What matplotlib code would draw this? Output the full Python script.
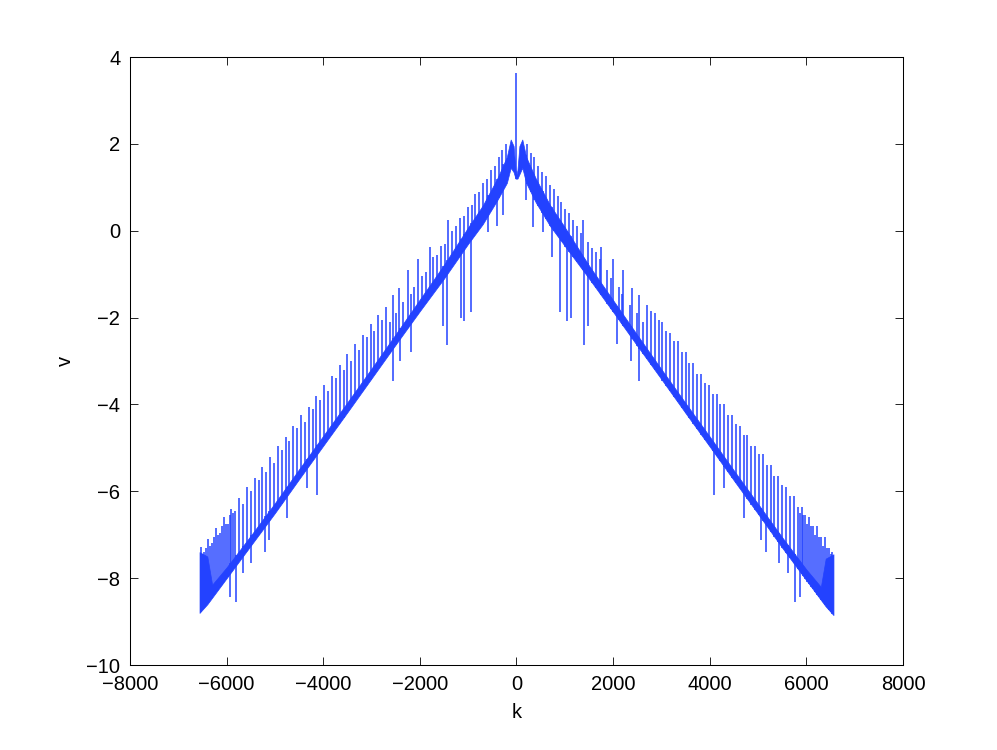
import numpy as np
import matplotlib
matplotlib.use("Agg")
import matplotlib.pyplot as plt

# thick central band of the signal (lower / upper edge)
band_k_left = [-6561, -6400, -6300, -6000, -5500, -5000, -4500, -4000, -3500, -3000,
               -2500, -2000, -1500, -1000, -700, -400, -200, -120, -60, -20, 0]
band_lo_left = [-8.8, -8.6, -8.45, -8.0, -7.25, -6.5, -5.72, -4.95, -4.18, -3.4,
                -2.62, -1.85, -1.1, -0.3, 0.15, 0.7, 1.1, 1.45, 1.35, 1.2, 1.2]
band_hi_left = [-7.4, -7.5, -8.15, -7.75, -7.02, -6.27, -5.49, -4.72, -3.95, -3.17,
                -2.38, -1.58, -0.78, 0.08, 0.58, 1.2, 1.7, 2.1, 1.95, 1.4, 1.3]

band_k_right = [0, 20, 60, 120, 200, 400, 700, 1000, 1500, 2000, 2500, 3000, 3500, 4000,
                4500, 5000, 5500, 6000, 6300, 6400, 6561]
band_lo_right = [1.2, 1.2, 1.3, 1.45, 1.1, 0.65, 0.1, -0.35, -1.1, -1.87, -2.65, -3.42, -4.2,
                 -4.97, -5.75, -6.52, -7.3, -8.05, -8.5, -8.65, -8.85]
band_hi_right = [1.3, 1.4, 1.95, 2.1, 1.7, 1.2, 0.58, 0.08, -0.8, -1.6, -2.4, -3.19,
                 -3.97, -4.74, -5.52, -6.29, -7.06, -7.8, -8.2, -7.55, -7.45]

# upward spikes (position, top)
up_k_left = [-6540, -6460, -6380, -6300, -6220, -6140, -6060, -5980, -5900, -5820, -5740,
             -5660, -5580, -5500, -5420, -5340, -5260, -5180, -5100, -5020, -4940, -4860,
             -4780, -4700, -4620, -4540, -4460, -4380, -4300, -4220, -4140, -4060, -3980,
             -3900, -3820, -3740, -3660, -3580, -3500, -3420, -3340, -3260, -3180, -3100,
             -3020, -2940, -2860, -2780, -2700,
             -2620, -2564, -2500, -2424, -2340, -2252, -2180, -2120, -2045, -1960, -1880,
             -1790, -1720, -1640, -1560, -1480, -1410, -1330, -1250, -1170, -1090, -1010,
             -930, -850, -770, -690, -610, -530, -450, -370, -290, -210,
             -6500, -6420, -6340, -6260, -6180, -6100, -6020, -5940, -5860]
up_top_left = [-7.29, -7.40, -7.10, -7.20, -6.85, -6.95, -6.60, -6.75, -6.40, -6.45, -6.15,
               -6.30, -5.90, -6.00, -5.70, -5.75, -5.45, -5.55, -5.20, -5.35, -4.95, -5.05,
               -4.75, -4.85, -4.50, -4.55, -4.25, -4.40, -4.05, -4.10, -3.80, -3.90, -3.55,
               -3.70, -3.35, -3.40, -3.10, -3.20, -2.85, -3.00, -2.60, -2.75, -2.40, -2.45,
               -2.15, -2.30, -1.95, -2.05, -1.75,
               -2.1, -1.48, -1.9, -1.33, -1.65, -0.9, -1.45, -1.3, -0.66, -1.05, -0.95,
               -0.37, -0.6, -0.55, -0.35, -0.3, 0.25, 0.0, 0.1, 0.3, 0.35, 0.55,
               0.6, 0.85, 0.9, 1.1, 1.2, 1.4, 1.5, 1.7, 1.85, 2.0,
               -7.45, -7.3, -7.25, -7.05, -7.0, -6.8, -6.75, -6.55, -6.5]

up_k_right = [210, 290, 370, 450, 530, 610, 690, 770, 850, 930, 1010, 1090, 1170, 1250,
              1330, 1370, 1480, 1560, 1640, 1720, 1743, 1880, 1960, 2004, 2120, 2180, 2211,
              2340, 2400, 2500, 2542, 2620,
              2700, 2780, 2860, 2940, 3020, 3100, 3180, 3260, 3340, 3420, 3500, 3580, 3660,
              3740, 3820, 3900, 3980, 4060, 4140, 4220, 4300, 4380, 4460, 4540, 4620, 4700,
              4780, 4860, 4940, 5020, 5100, 5180, 5260, 5340, 5420, 5500, 5580, 5660, 5740,
              5820, 5900, 5980, 6060, 6140, 6220, 6300, 6380, 6460, 6540,
              5860, 5940, 6020, 6100, 6180, 6260, 6340, 6420, 6500]
up_top_right = [2.0, 1.8, 1.7, 1.5, 1.35, 1.25, 1.05, 0.95, 0.8, 0.65, 0.5, 0.4, 0.25, 0.1,
                -0.05, 0.25, -0.25, -0.4, -0.5, -0.65, -0.37, -0.9, -1.1, -0.66, -1.3, -1.45, -0.9,
                -1.7, -1.33, -1.9, -1.48, -2.1,
                -1.70, -1.85, -1.90, -2.05, -2.10, -2.30, -2.35, -2.55, -2.55, -2.80, -2.80,
                -3.05, -3.05, -3.30, -3.30, -3.50, -3.55, -3.75, -3.75, -4.00, -4.00, -4.25,
                -4.25, -4.45, -4.50, -4.70, -4.70, -4.95, -4.95, -5.15, -5.15, -5.40, -5.40,
                -5.65, -5.65, -5.85, -5.90, -6.10, -6.10, -6.35, -6.35, -6.55, -6.60, -6.80,
                -6.80, -7.05, -7.05, -7.30, -7.40,
                -6.5, -6.55, -6.75, -6.8, -7.0, -7.05, -7.25, -7.3, -7.45]

# downward spikes (position, bottom)
dn_k = [-5930, -5806, -5667, -5495, -5206, -5116, -4757, -4343, -4136, -2564, -2414, -2190,
        -1522, -1445, -1157, -1085, -940, -580, -400, -270,
        190, 346, 540, 727, 900, 1050, 1120, 1396, 1472, 2087, 2371, 2542, 4088, 4300, 4715,
        5066, 5170, 5434, 5613, 5764, 5868]
dn_bot = [-8.43, -8.54, -7.89, -7.64, -7.39, -7.12, -6.62, -5.93, -6.09, -3.45, -3.0, -2.8,
          -2.19, -2.63, -2.0, -2.09, -1.86, -0.02, 0.11, 0.36,
          0.71, 0.09, -0.02, -0.6, -1.86, -2.09, -2.02, -2.63, -2.19, -2.6, -3.0, -3.45, -6.09,
          -5.93, -6.62, -7.12, -7.39, -7.64, -7.89, -8.54, -8.43]

peak_k = 0
peak_lo = 1.2
peak_hi = 3.64

blue = "#2342ff"
plt.rcParams["font.family"] = ["Liberation Sans", "DejaVu Sans"]

fig = plt.figure(figsize=(9.97, 7.5), dpi=100)
ax = fig.add_axes([0.1304, 0.1133, 0.7753, 0.8107])

band_k = np.array(band_k_left + band_k_right[1:])
band_lo = np.array(band_lo_left + band_lo_right[1:])
band_hi = np.array(band_hi_left + band_hi_right[1:])
ax.fill_between(band_k, band_lo, band_hi, color=blue, lw=0.5)

up_k = np.array(up_k_left + up_k_right)
up_top = np.array(up_top_left + up_top_right)
ax.vlines(up_k, np.interp(up_k, band_k, band_lo), up_top, color=blue, lw=1.1)

dn_k = np.array(dn_k)
ax.vlines(dn_k, dn_bot, np.interp(dn_k, band_k, band_hi), color=blue, lw=1.1)

ax.vlines([peak_k], [peak_lo], [peak_hi], color=blue, lw=1.1)

ax.set_xlim(-8000, 8000)
ax.set_ylim(-10, 4)
ax.set_xticks(np.arange(-8000, 8001, 2000))
ax.set_yticks(np.arange(-10, 5, 2))
ax.tick_params(direction="in", length=5.5, width=0.6, labelsize=14.5, top=True, right=True,
               pad=7)
for s in ax.spines.values():
    s.set_linewidth(0.75)
ax.set_xlabel("k", fontsize=14.5, labelpad=7)
ax.set_ylabel("v", fontsize=14.5, labelpad=8)

fig.savefig("out.png", dpi=100)
